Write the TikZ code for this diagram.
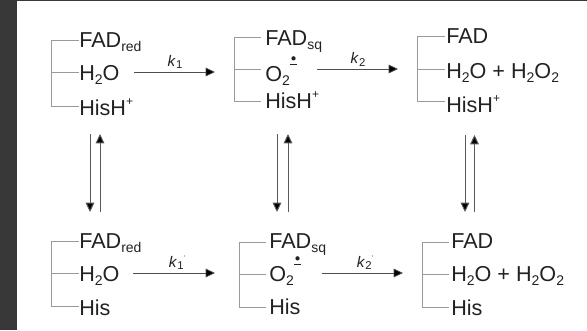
\documentclass[tikz,border=0pt]{standalone}
\usepackage{fontspec}
\setmainfont{Liberation Sans}
\usetikzlibrary{arrows.meta}
\definecolor{band}{HTML}{383838}
\definecolor{ink}{HTML}{222222}
\definecolor{brkcol}{HTML}{9A9A9A}
\newcommand{\sbs}[1]{\raisebox{-3.2pt}{\fontsize{10.5pt}{12pt}\selectfont #1}}
\newcommand{\sps}[1]{\raisebox{7.5pt}{\fontsize{9pt}{11pt}\selectfont #1}}
\newcommand{\oxdot}{\rlap{\raisebox{12.8pt}{\tikz[baseline=0pt]{\fill[ink] (0,4.2pt) circle (1.6pt);\draw[ink,line width=.5pt] (-2.5pt,0)--(2.5pt,0);}}}\hspace{7pt}}
\tikzset{
 lbl/.style={anchor=base west,inner sep=0pt,text=ink,font=\fontsize{16.2pt}{19pt}\selectfont},
 rate/.style={anchor=center,inner sep=0pt,text=ink,font=\fontsize{11.5pt}{14pt}\selectfont},
 brk/.style={draw=brkcol,line width=.75pt},
 rxn/.style={draw=ink!80,line width=.55pt,-{Triangle[length=7pt,width=6.5pt,fill=black]}},
 eqm/.style={draw=ink!75,line width=.7pt,-{Triangle[length=7pt,width=6.5pt,fill=black]}}
}
\begin{document}
\begin{tikzpicture}[x=.75pt,y=-.75pt]
\useasboundingbox (0,0) rectangle (587,330);
\fill[white] (0,0) rectangle (587,330);
\fill[band] (0,0) rectangle (17,330);
\fill[band] (0,0) rectangle (587,1);
% top row
\node[lbl] (a1) at (79,47) {FAD\sbs{red}};
\node[lbl] (a2) at (79,80) {H\sbs{2}O};
\node[lbl] (a3) at (79,115) {HisH\sps{+}};
\node[lbl] (b1) at (265,45) {FAD\sbs{sq}};
\node[lbl] (b2) at (265,81) {O\sbs{2}\oxdot};
\node[lbl] (b3) at (265,108) {HisH\sps{+}};
\node[lbl] (c1) at (446,43) {FAD};
\node[lbl] (c2) at (446,78) {H\sbs{2}O + H\sbs{2}O\sbs{2}};
\node[lbl] (c3) at (446,112) {HisH\sps{+}};
% bottom row
\node[lbl] (d1) at (79,248) {FAD\sbs{red}};
\node[lbl] (d2) at (79,281) {H\sbs{2}O};
\node[lbl] (d3) at (79,315) {His};
\node[lbl] (e1) at (269,248) {FAD\sbs{sq}};
\node[lbl] (e2) at (269,281) {O\sbs{2}\oxdot};
\node[lbl] (e3) at (269,314) {His};
\node[lbl] (f1) at (451,248) {FAD};
\node[lbl] (f2) at (451,281) {H\sbs{2}O + H\sbs{2}O\sbs{2}};
\node[lbl] (f3) at (451,315) {His};
% bracket corners
\coordinate (a1e) at (79,40.5); \coordinate (a2e) at (79,72.5); \coordinate (a3e) at (79,106);
\coordinate (a1l) at (51,40.5); \coordinate (a2l) at (51,72.5); \coordinate (a3l) at (51,106);
\coordinate (b1e) at (261,37); \coordinate (b2e) at (261,69); \coordinate (b3e) at (261,101);
\coordinate (b1l) at (234,37); \coordinate (b2l) at (234,69); \coordinate (b3l) at (234,101);
\coordinate (c1e) at (445,36); \coordinate (c2e) at (445,69); \coordinate (c3e) at (445,101);
\coordinate (c1l) at (417,36); \coordinate (c2l) at (417,69); \coordinate (c3l) at (417,101);
\coordinate (d1e) at (79,241); \coordinate (d2e) at (79,273); \coordinate (d3e) at (79,306);
\coordinate (d1l) at (51,241); \coordinate (d2l) at (51,273); \coordinate (d3l) at (51,306);
\coordinate (e1e) at (266,242); \coordinate (e2e) at (266,274); \coordinate (e3e) at (266,307);
\coordinate (e1l) at (239,242); \coordinate (e2l) at (239,274); \coordinate (e3l) at (239,307);
\coordinate (f1e) at (449,242); \coordinate (f2e) at (449,274); \coordinate (f3e) at (449,307);
\coordinate (f1l) at (422,242); \coordinate (f2l) at (422,274); \coordinate (f3l) at (422,307);
\foreach \g in {a,b,c,d,e,f}{
 \draw[brk] (\g1e) -- (\g1l) -- (\g3l) -- (\g3e);
 \draw[brk] (\g2l) -- (\g2e);
}
% horizontal arrows
\coordinate (h1s) at (134,72); \coordinate (h1t) at (215,72);
\coordinate (h2s) at (317,69); \coordinate (h2t) at (398,69);
\coordinate (h3s) at (133,273); \coordinate (h3t) at (215,273);
\coordinate (h4s) at (322,273); \coordinate (h4t) at (403,273);
\draw[rxn] (h1s) -- (h1t);
\draw[rxn] (h2s) -- (h2t);
\draw[rxn] (h3s) -- (h3t);
\draw[rxn] (h4s) -- (h4t);
\node[rate] (k1) at (175,62) {\textit{k}\raisebox{-1.8pt}{\fontsize{8.5pt}{10pt}\selectfont 1}};
\node[rate] (k2) at (358,59.5) {\textit{k}\raisebox{-1.8pt}{\fontsize{8.5pt}{10pt}\selectfont 2}};
\node[rate] (k3) at (177,263) {\textit{k}\raisebox{-1.8pt}{\fontsize{8.5pt}{10pt}\selectfont 1}\raisebox{5pt}{\fontsize{5pt}{6pt}\selectfont '}};
\node[rate] (k4) at (365,263) {\textit{k}\raisebox{-1.8pt}{\fontsize{8.5pt}{10pt}\selectfont 2}\raisebox{5pt}{\fontsize{5pt}{6pt}\selectfont '}};
% equilibrium arrows
\coordinate (v1a) at (90,134); \coordinate (v1b) at (90,212);
\coordinate (v2a) at (100,212); \coordinate (v2b) at (100,134);
\coordinate (v3a) at (277,134); \coordinate (v3b) at (277,212);
\coordinate (v4a) at (288,212); \coordinate (v4b) at (288,134);
\coordinate (v5a) at (465,135); \coordinate (v5b) at (465,212);
\coordinate (v6a) at (474.5,212); \coordinate (v6b) at (474.5,135);
\foreach \p/\q in {v1a/v1b,v2a/v2b,v3a/v3b,v4a/v4b,v5a/v5b,v6a/v6b}
 \draw[eqm] (\p) -- (\q);
\end{tikzpicture}
\end{document}
